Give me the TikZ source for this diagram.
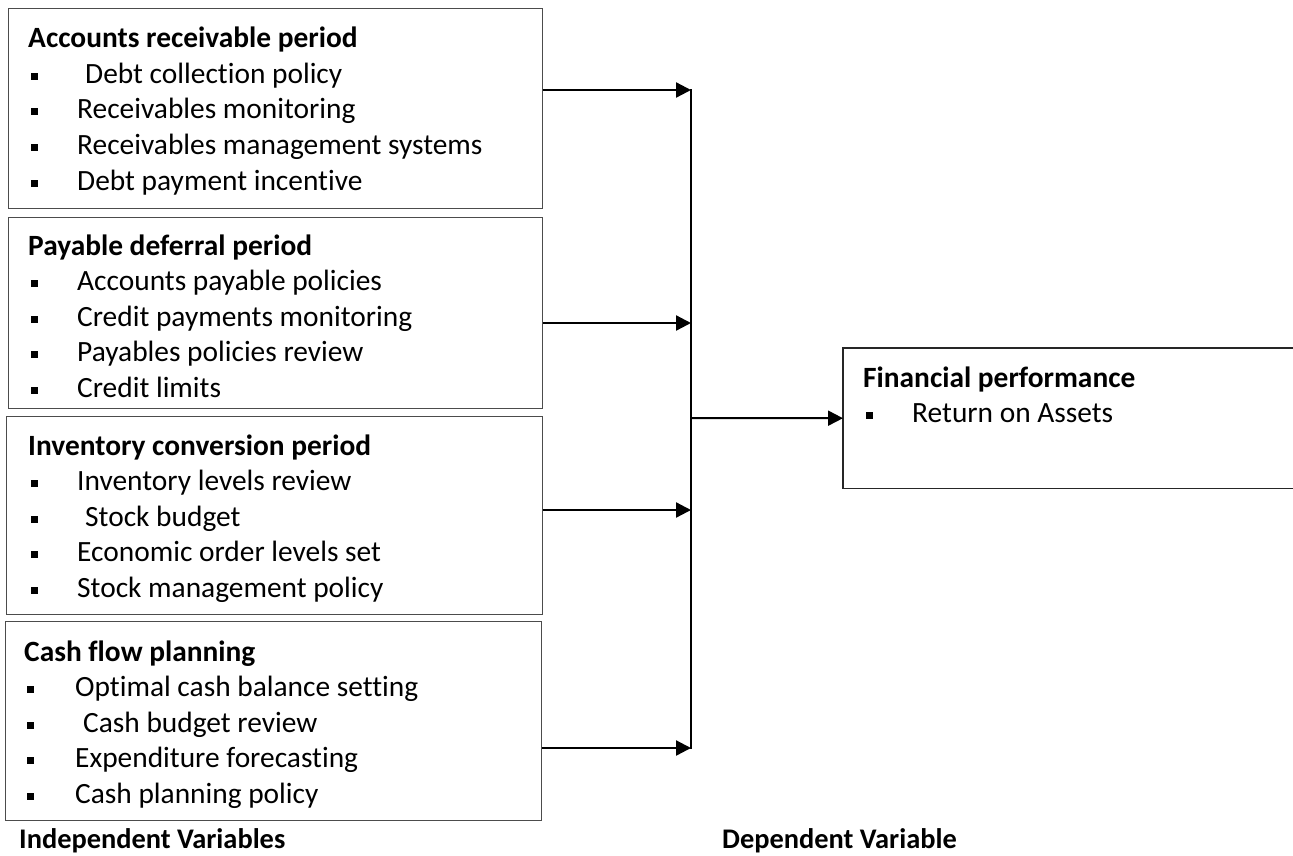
\documentclass[tikz,border=0pt]{standalone}
\usepackage{fontspec}
\setmainfont{Carlito}[Ligatures=NoCommon]
\usetikzlibrary{arrows.meta}
\newcommand{\sqb}{\raisebox{3.5pt}{\rule{7pt}{7pt}}}
\newcommand{\itm}[1]{\hspace*{2.5pt}\sqb & #1}
\begin{document}
\begin{tikzpicture}[x=1pt,y=-1pt,
  boxline/.style={draw=black!70,line width=1.3pt},
  varbox/.style={boxline,anchor=north west,inner sep=0pt,minimum width=534pt},
  txt/.style={anchor=north west,inner sep=0pt,font=\fontsize{29.4}{35.6}\selectfont},
  lbl/.style={anchor=base west,inner sep=0pt,font=\fontsize{28.4}{34}\selectfont\bfseries},
  arr/.style={line width=2.3pt,-{Triangle[length=15pt,width=15pt]}},
  bar/.style={line width=2pt}]
\clip (0,0) rectangle (1293,855);
\fill[white] (0,0) rectangle (1293,855);
% boxes
\node[varbox,minimum height=200pt] (b1) at (8,8) {};
\node[varbox,minimum height=191pt] (b2) at (8,217) {};
\node[varbox,minimum height=198pt,minimum width=536pt] (b3) at (6,416) {};
\node[varbox,minimum height=199pt,minimum width=536pt] (b4) at (5,621) {};
% texts
\node[txt] (t1) at (28,22.5) {\begin{tabular}{@{}p{49pt}@{}l@{}}
\multicolumn{2}{@{}l@{}}{\bfseries Accounts receivable period}\\
\itm{\hspace*{8pt}Debt collection policy}\\
\itm{Receivables monitoring}\\
\itm{Receivables management systems}\\
\itm{Debt payment incentive}
\end{tabular}};
\node[txt] (t2) at (28,230) {\begin{tabular}{@{}p{49pt}@{}l@{}}
\multicolumn{2}{@{}l@{}}{\bfseries Payable deferral period}\\
\itm{Accounts payable policies}\\
\itm{Credit payments monitoring}\\
\itm{Payables policies review}\\
\itm{Credit limits}
\end{tabular}};
\node[txt] (t3) at (28,430) {\begin{tabular}{@{}p{49pt}@{}l@{}}
\multicolumn{2}{@{}l@{}}{\bfseries Inventory conversion period}\\
\itm{Inventory levels review}\\
\itm{\hspace*{8pt}Stock budget}\\
\itm{Economic order levels set}\\
\itm{Stock management policy}
\end{tabular}};
\node[txt] (t4) at (24,636) {\begin{tabular}{@{}p{51pt}@{}l@{}}
\multicolumn{2}{@{}l@{}}{\bfseries Cash flow planning}\\
\itm{Optimal cash balance setting}\\
\itm{\hspace*{8pt}Cash budget review}\\
\itm{Expenditure forecasting}\\
\itm{Cash planning policy}
\end{tabular}};
% dependent box (open at right, runs past the edge)
\node[anchor=north west,inner sep=0pt,minimum width=470pt,minimum height=140pt] (dv) at (843,348) {};
\draw[draw=black!85,line width=1.3pt] (dv.north east) -- (dv.north west) -- (dv.south west) -- (dv.south east);
\node[txt] (td) at (863,362) {\begin{tabular}{@{}p{49pt}@{}l@{}}
\multicolumn{2}{@{}l@{}}{\bfseries Financial performance}\\
\itm{Return on Assets}
\end{tabular}};
% connectors
\coordinate (j1) at (691,90);
\coordinate (j2) at (691,323);
\coordinate (j3) at (691,510);
\coordinate (j4) at (691,748);
\coordinate (jm) at (691,418);
\draw[bar] ([yshift=1pt]j1) -- ([yshift=-1pt]j4);
\draw[arr] (b1.east |- j1) -- (j1);
\draw[arr] (b2.east |- j2) -- (j2);
\draw[arr] (b3.east |- j3) -- (j3);
\draw[arr] (b4.east |- j4) -- (j4);
\draw[arr,line width=2pt] (jm) -- (dv.west);
% labels
\node[lbl] (li) at (19,848) {Independent Variables};
\node[lbl] (ld) at (722,848) {Dependent Variable};
\end{tikzpicture}
\end{document}
